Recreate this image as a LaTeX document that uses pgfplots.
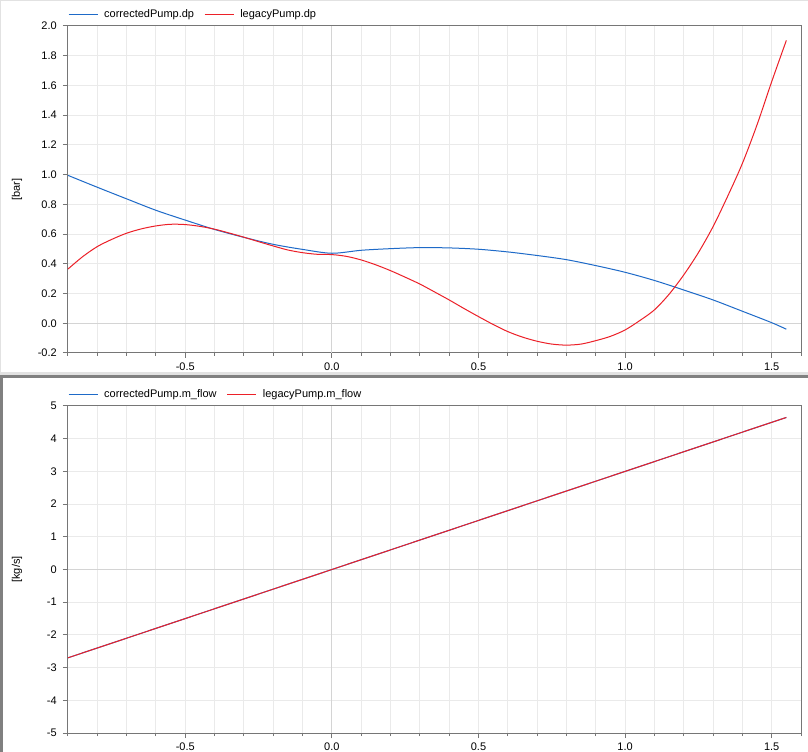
\documentclass[border=0pt]{standalone}
\usepackage{pgfplots}
\pgfplotsset{compat=1.18}
\usepackage{pgfplotstable}
\usepackage{fontspec}
\setmainfont{Liberation Sans}
\definecolor{cblue}{RGB}{30,106,200}
\definecolor{cred}{RGB}{236,32,40}
\definecolor{frame}{RGB}{118,118,118}
\definecolor{gridc}{RGB}{234,234,234}
\definecolor{zeroc}{RGB}{212,212,212}
\definecolor{panell}{RGB}{226,226,226}
\definecolor{paneld}{RGB}{128,128,128}

\pgfplotstableread{
x y
-0.9 0.995
-0.8 0.915
-0.7 0.837
-0.6 0.760
-0.5 0.694
-0.4 0.631
-0.3 0.578
-0.2 0.531
-0.1 0.497
0.0 0.471
0.1 0.491
0.2 0.502
0.3 0.509
0.4 0.507
0.5 0.498
0.6 0.480
0.7 0.456
0.8 0.428
0.9 0.388
1.0 0.343
1.1 0.288
1.2 0.224
1.3 0.157
1.4 0.081
1.5 0.004
1.55 -0.040
}\corrdp

\pgfplotstableread{
x y
-0.9 0.365
-0.85 0.448
-0.8 0.516
-0.75 0.565
-0.7 0.606
-0.65 0.635
-0.6 0.655
-0.55 0.666
-0.5 0.664
-0.45 0.652
-0.4 0.633
-0.35 0.607
-0.3 0.579
-0.25 0.549
-0.2 0.520
-0.15 0.493
-0.1 0.475
-0.05 0.464
0.0 0.462
0.05 0.450
0.1 0.426
0.15 0.393
0.2 0.354
0.25 0.310
0.3 0.264
0.35 0.211
0.4 0.157
0.45 0.100
0.5 0.045
0.55 -0.008
0.6 -0.056
0.65 -0.093
0.7 -0.121
0.75 -0.140
0.8 -0.147
0.85 -0.140
0.9 -0.117
0.95 -0.088
1.0 -0.045
1.05 0.018
1.1 0.090
1.15 0.195
1.2 0.325
1.25 0.475
1.3 0.650
1.35 0.855
1.4 1.075
1.45 1.335
1.5 1.625
1.55 1.903
}\legdp

\pgfplotstableread{
x y
-0.9 -2.7
0.0 0.0
1.55 4.65
}\corrmf

\pgfplotstableread{
x y
-0.9 -2.7
0.0 0.0
1.55 4.65
}\legmf

\pgfplotsset{
  panel/.style={
    scale only axis,
    width=549.75pt, height=245.25pt,
    anchor=north west,
    xmin=-0.9, xmax=1.6,
    xtick={-0.5,0,0.5,1,1.5},
    minor xtick={-0.9,-0.8,-0.7,-0.6,-0.4,-0.3,-0.2,-0.1,0.1,0.2,0.3,0.4,0.6,0.7,0.8,0.9,1.1,1.2,1.3,1.4,1.6},
    xticklabel style={/pgf/number format/fixed,/pgf/number format/fixed zerofill,/pgf/number format/precision=1},
    xtick pos=bottom, ytick pos=left,
    tick align=outside,
    major tick length=3.75pt, minor tick length=2.25pt,
    grid=both,
    major grid style={color=gridc, line width=0.75pt},
    minor grid style={color=gridc, line width=0.75pt},
    axis line style={color=frame, line width=0.75pt},
    tick style={color=frame, line width=0.75pt},
    /pgf/number format/assume math mode=true,
    tick label style={font=\fontsize{8.25}{9.9}\selectfont, text=black},
    label style={font=\fontsize{8.25}{9.9}\selectfont},
    yticklabel style={inner sep=0pt, xshift=-4.5pt},
    xticklabel style={inner sep=0pt, yshift=-3.5pt},
    ylabel style={at={(axis description cs:-0.0696,0.5)}, anchor=center, rotate=0},
    extra x ticks={0}, extra y ticks={0},
    extra x tick labels={}, extra y tick labels={},
    extra tick style={major grid style={color=zeroc, line width=0.75pt}},
    legend style={at={(0,1)}, anchor=south west, draw=none, fill=none,
      inner sep=0pt, outer sep=0pt, yshift=5pt,
      font=\fontsize{8.25}{9.9}\selectfont,
      /tikz/every odd column/.append style={column sep=4.5pt},
      /tikz/every even column/.append style={column sep=7.5pt},
      nodes={inner sep=0pt}},
    legend columns=2,
  }
}

\begin{document}
\begin{tikzpicture}
\useasboundingbox (0pt,0pt) rectangle (606pt,-564pt);
\clip (0pt,0pt) rectangle (606pt,-564pt);
\fill[white] (0pt,0pt) rectangle (606pt,-564pt);
% panel borders
\fill[panell] (0pt,0pt) rectangle (606pt,-1pt);
\fill[panell] (0pt,0pt) rectangle (1pt,-281pt);
\fill[panell] (0pt,-279pt) rectangle (606pt,-281.25pt);
\fill[paneld] (0pt,-281.25pt) rectangle (606pt,-283.5pt);
\fill[paneld] (0pt,-281.25pt) rectangle (2pt,-564pt);

\begin{axis}[panel, at={(51pt,-19.5pt)},
  ymin=-0.2, ymax=2.0,
  ytick={-0.2,0,0.2,0.4,0.6,0.8,1.0,1.2,1.4,1.6,1.8,2.0},
  yticklabel style={/pgf/number format/fixed,/pgf/number format/fixed zerofill,/pgf/number format/precision=1},
  ylabel={[bar]}]
\addplot[cblue, line width=0.75pt, smooth,
  legend image code/.code={\draw[cblue, line width=0.9pt] (0pt,0pt) -- (21.75pt,0pt);}]
  table[x=x,y=y] {\corrdp};
\addlegendentry{correctedPump.dp}
\addplot[cred, line width=0.75pt, smooth,
  legend image code/.code={\draw[cred, line width=0.9pt] (0pt,0pt) -- (21.75pt,0pt);}]
  table[x=x,y=y] {\legdp};
\addlegendentry{legacyPump.dp}
\end{axis}

\begin{axis}[panel, at={(51pt,-304.5pt)},
  ymin=-5, ymax=5,
  ytick={-5,-4,-3,-2,-1,0,1,2,3,4,5},
  ylabel={[kg/s]}]
\addplot[cblue, line width=0.75pt,
  legend image code/.code={\draw[cblue, line width=0.9pt] (0pt,0pt) -- (21.75pt,0pt);}]
  table[x=x,y=y] {\corrmf};
\addlegendentry{correctedPump.m\_flow}
\addplot[cred, line width=0.75pt,
  legend image code/.code={\draw[cred, line width=0.9pt] (0pt,0pt) -- (21.75pt,0pt);}]
  table[x=x,y=y] {\legmf};
\addlegendentry{legacyPump.m\_flow}
\end{axis}
\end{tikzpicture}
\end{document}
